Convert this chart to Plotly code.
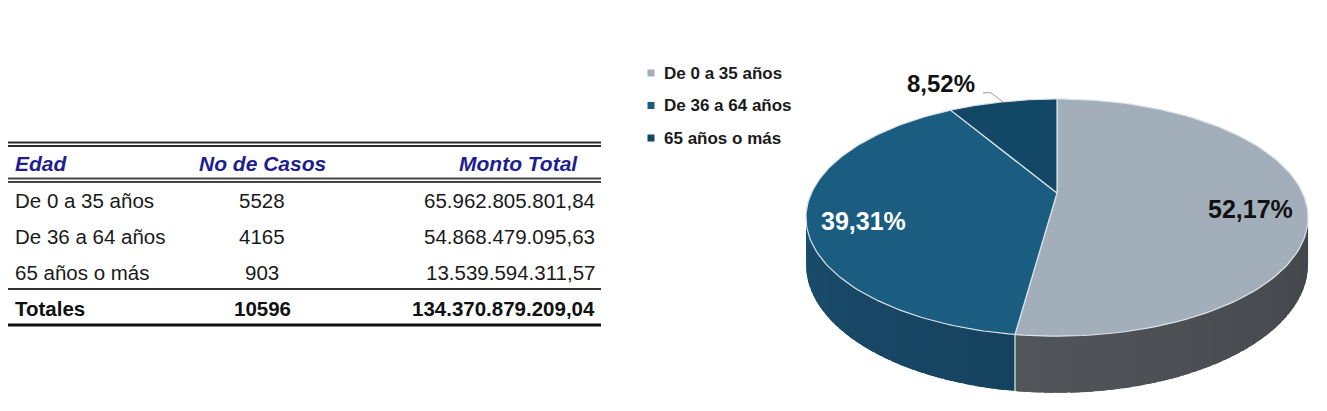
import numpy as np
import plotly.graph_objects as go

# ---------------- data ----------------
headers = ["Edad", "No de Casos", "Monto Total"]
categories = ["De 0 a 35 años", "De 36 a 64 años", "65 años o más"]
casos = [5528, 4165, 903]
montos = ["65.962.805.801,84", "54.868.479.095,63", "13.539.594.311,57"]
total_label = "Totales"
total_casos = "10596"
total_monto = "134.370.879.209,04"

top_colors = ["#A3AEBB", "#1B5D80", "#134766"]
side_colors = [("#404448", "#606469"), ("#0E344D", "#1B4F6E"), ("#0B2E45", "#0B2E45")]
label_colors = ["#111111", "#FFFFFF", "#111111"]

W, H = 1327, 411
FONT = "Liberation Sans"

fig = go.Figure()

# ---------------- 3D pie geometry (perspective projection) ----------------
CX, CY = 1057, 193
A, B, K, D = 245.6, 113.5, 0.207, 45.0


def proj(theta_deg, r=1.0, z=0.0):
    t = np.radians(theta_deg)
    u = r * np.sin(t)
    v = r * np.cos(t)
    w = 1 + K * v
    return CX + A * u / w, CY - B * v / w + z * D / w


def hex2rgb(h):
    h = h.lstrip("#")
    return np.array([int(h[i:i + 2], 16) for i in (0, 2, 4)], dtype=float)


def mix(c0, c1, f):
    c = hex2rgb(c0) * (1 - f) + hex2rgb(c1) * f
    return "rgb(%d,%d,%d)" % tuple(np.round(c).astype(int))


total = sum(casos)
fracs = [c / total for c in casos]
pct_text = [("%.2f" % (100 * f)).replace(".", ",") + "%" for f in fracs]
bounds = np.concatenate([[0], np.cumsum(fracs) * 360])

# sides (front half only: 90..270 degrees clockwise from top), drawn as
# overlapping strips so that the shading has no visible seams
NSTRIP = 40
for i in range(len(casos)):
    a, b = max(bounds[i], 90), min(bounds[i + 1], 270)
    if b <= a:
        continue
    edges = np.linspace(a, b, NSTRIP + 1)
    step = edges[1] - edges[0]
    for j in range(NSTRIP):
        t0 = edges[j]
        t1 = min(edges[j + 1] + 0.8 * step, b)
        ts = np.linspace(t0, t1, 5)
        xt, yt = proj(ts, 1, 0)
        xb, yb = proj(ts[::-1], 1, 1)
        f = (0.5 * (edges[j] + edges[j + 1]) - 90) / 180.0
        col = mix(side_colors[i][0], side_colors[i][1], f)
        fig.add_trace(go.Scatter(
            x=np.concatenate([xt, xb]), y=np.concatenate([yt, yb]),
            fill="toself", fillcolor=col, mode="lines",
            line=dict(color=col, width=0), hoverinfo="skip", showlegend=False))

# vertical edges on the side at slice boundaries in the front
for bnd in bounds[1:-1]:
    if 90 < bnd < 270:
        x0, y0 = proj(bnd, 1, 0)
        x1, y1 = proj(bnd, 1, 1)
        fig.add_trace(go.Scatter(x=[x0, x1], y=[y0, y1], mode="lines",
                                 line=dict(color="#E6EAEE", width=1.2),
                                 hoverinfo="skip", showlegend=False))

# top faces
for i in range(len(casos)):
    ts = np.linspace(bounds[i], bounds[i + 1], 120)
    xa, ya = proj(ts, 1, 0)
    xc, yc = proj(0, 0, 0)
    fig.add_trace(go.Scatter(
        x=np.concatenate([[xc], xa, [xc]]), y=np.concatenate([[yc], ya, [yc]]),
        fill="toself", fillcolor=top_colors[i], mode="lines",
        line=dict(color="#DCE3E9", width=1.2),
        name=categories[i], hovertemplate=categories[i] + ": " + pct_text[i] + "<extra></extra>",
        showlegend=False))

# data labels
annotations = []
for i in range(len(casos)):
    mid = 0.5 * (bounds[i] + bounds[i + 1])
    if fracs[i] > 0.2:
        lx, ly = proj(mid, 0.78, 0.22)
        annotations.append(dict(x=lx, y=ly, text=pct_text[i], showarrow=False,
                                font=dict(family=FONT, size=25, color=label_colors[i], weight="bold"),
                                xanchor="center", yanchor="middle"))
    else:
        ex, ey = proj(mid, 1, 0)
        lx, ly = ex - 62, ey - 18
        fig.add_trace(go.Scatter(x=[lx + 42, lx + 50, ex], y=[ly + 9, ly + 9, ey], mode="lines",
                                 line=dict(color="#9A9A9A", width=1),
                                 hoverinfo="skip", showlegend=False))
        annotations.append(dict(x=lx, y=ly, text=pct_text[i], showarrow=False,
                                font=dict(family=FONT, size=24, color=label_colors[i], weight="bold"),
                                xanchor="center", yanchor="middle"))

# ---------------- legend ----------------
LEG_X, LEG_Y0, LEG_DY = 651, 73, 32.5
leg_y = [LEG_Y0 + LEG_DY * i for i in range(len(categories))]
fig.add_trace(go.Scatter(x=[LEG_X] * len(categories), y=leg_y, mode="markers",
                         marker=dict(symbol="square", size=7, color=top_colors),
                         hoverinfo="skip", showlegend=False))
for i, c in enumerate(categories):
    annotations.append(dict(x=LEG_X + 11, y=leg_y[i], text=c, showarrow=False,
                            font=dict(family=FONT, size=17, color="#1A1A1A", weight="bold"),
                            xanchor="left", yanchor="middle"))

# ---------------- table ----------------
TX0, TX1 = 8, 601
COL_LEFT, COL_CENTER, COL_RIGHT, HDR_RIGHT = 13, 262, 597, 580
HDR_Y, ROW_Y0, ROW_DY, TOT_Y = 163, 200, 36, 308
HDR_COLOR = "#1E1E8E"
TXT_COLOR = "#1A1A1A"

hdr_font = dict(family=FONT, size=21, color=HDR_COLOR, weight="bold", style="italic")
annotations.append(dict(x=COL_LEFT, y=HDR_Y, text=headers[0], xanchor="left", font=hdr_font))
annotations.append(dict(x=COL_CENTER, y=HDR_Y, text=headers[1], xanchor="center", font=hdr_font))
annotations.append(dict(x=HDR_RIGHT, y=HDR_Y, text=headers[2], xanchor="right", font=hdr_font))

row_font = dict(family=FONT, size=20.5, color=TXT_COLOR)
for i in range(len(categories)):
    y = ROW_Y0 + ROW_DY * i
    annotations.append(dict(x=COL_LEFT, y=y, text=categories[i], xanchor="left", font=row_font))
    annotations.append(dict(x=COL_CENTER, y=y, text=str(casos[i]), xanchor="center", font=row_font))
    annotations.append(dict(x=COL_RIGHT, y=y, text=montos[i], xanchor="right", font=row_font))

tot_font = dict(family=FONT, size=20.5, color="#111111", weight="bold")
annotations.append(dict(x=COL_LEFT, y=TOT_Y, text=total_label, xanchor="left", font=tot_font))
annotations.append(dict(x=COL_CENTER, y=TOT_Y, text=total_casos, xanchor="center", font=tot_font))
annotations.append(dict(x=COL_RIGHT, y=TOT_Y, text=total_monto, xanchor="right", font=tot_font))

for a in annotations:
    a.setdefault("showarrow", False)
    a.setdefault("yanchor", "middle")
    a["xref"] = "x"
    a["yref"] = "y"

rules = [(142.5, 1.8, "#2A2A2A"), (146, 1.8, "#2A2A2A"),
         (178.5, 1.8, "#444444"), (182, 1.8, "#444444"),
         (289, 1.8, "#333333"), (325, 3.2, "#111111")]
shapes = [dict(type="line", xref="x", yref="y", x0=TX0, x1=TX1, y0=y, y1=y,
               line=dict(color=c, width=w)) for y, w, c in rules]

fig.update_layout(
    width=W, height=H, margin=dict(l=0, r=0, t=0, b=0),
    paper_bgcolor="white", plot_bgcolor="white",
    xaxis=dict(range=[0, W], visible=False, fixedrange=True),
    yaxis=dict(range=[H, 0], visible=False, fixedrange=True),
    annotations=annotations, shapes=shapes, showlegend=False,
)

fig.write_html("out.html")
